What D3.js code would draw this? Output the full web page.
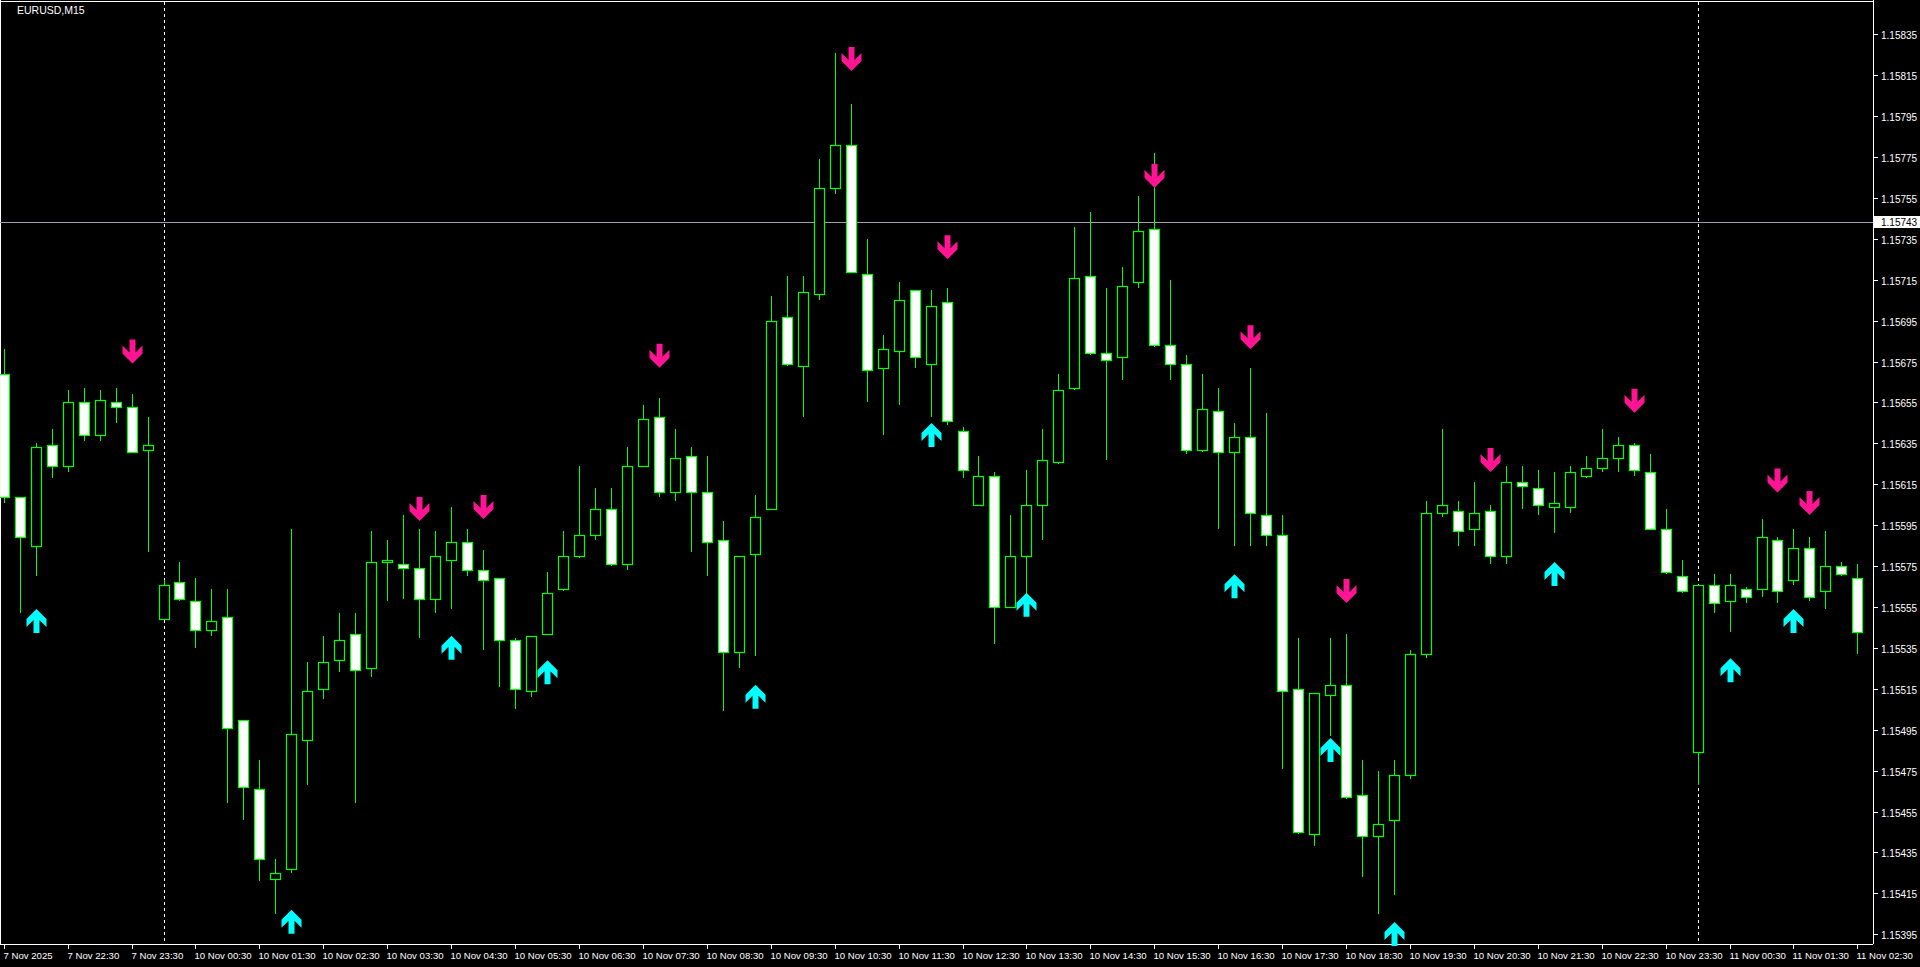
<!DOCTYPE html>
<html><head><meta charset="utf-8">
<script src="https://cdn.jsdelivr.net/npm/d3@7"></script>
<style>html,body{margin:0;padding:0;background:#000;overflow:hidden}</style>
</head><body><svg id="c" width="1920" height="967"></svg>
<script>
// OHLC as price; written as 1.15 + n/100000 where n listed (open, high, low, close)
const ohlcPoints = [
[669,681,606,609],[609,609,552,589],[585,635,570,633],[634,642,618,624],[624,661,621,655],
[655,662,636,639],[639,661,636,656],[655,662,645,653],[653,659,631,631],[632,648,582,634],
[549,568,549,566],[567,577,558,559],[558,569,535,544],[544,564,541,548],[550,564,459,496],
[500,500,451,467],[466,480,421,432],[422,432,405,425],[427,593,425,493],[490,528,468,514],
[515,541,510,528],[529,552,523,539],[542,552,459,524],[525,592,521,577],[577,588,558,578],
[576,600,559,574],[574,593,540,559],[559,592,552,580],[578,604,554,587],[587,593,570,573],
[573,583,534,568],[569,569,516,539],[539,540,505,515],[514,541,511,541],[542,572,542,562],
[564,592,563,580],[580,624,579,590],[590,613,588,603],[603,613,575,576],[576,633,573,624],
[624,654,624,647],[648,657,609,611],[611,642,607,628],[629,633,582,611],[611,629,570,587],
[588,597,504,533],[533,580,525,580],[581,610,531,599],[603,707,603,695],[697,717,673,674],
[673,717,648,709],[708,774,705,760],[760,826,757,781],[781,801,719,719],[718,735,655,671],
[672,688,639,681],[680,714,654,705],[710,710,672,677],[674,710,648,702],[704,711,644,646],
[641,643,618,622],[605,629,605,619],[619,621,537,555],[555,600,555,580],[580,622,552,605],
[605,642,588,627],[626,669,625,661],[662,741,661,716],[717,748,678,679],[679,711,627,676],
[677,721,666,712],[714,756,711,739],[740,777,682,683],[683,715,666,674],[674,678,630,632],
[632,669,631,652],[651,662,593,631],[631,645,585,638],[638,672,585,601],[600,650,585,590],
[590,600,476,514],[515,540,444,445],[444,513,438,513],[512,540,492,517],[517,542,461,462],
[463,480,423,443],[443,475,405,449],[451,480,414,473],[473,534,471,532],[532,607,530,601],
[601,642,599,605],[602,607,585,592],[593,616,585,601],[602,605,576,580],[580,624,576,616],
[616,624,603,614],[613,622,600,605],[604,621,591,606],[604,624,601,621],[619,629,618,623],
[623,642,621,628],[628,638,621,634],[634,635,619,622],[621,630,593,593],[593,603,571,572],
[570,578,562,563],[484,566,468,566],[566,571,552,557],[558,571,543,566],[564,565,557,560],
[564,598,560,589],[588,589,557,563],[568,593,566,584],[584,589,558,560],[563,592,554,575],
[575,577,570,571],[569,576,532,543]
];
const candles = ohlcPoints.map(a => a.map(n => +(1.15 + n / 100000).toFixed(5)));
const downArrowIdx = [8, 26, 30, 41, 53, 59, 72, 78, 84, 93, 102, 111, 113];
const downArrowPts = [674, 597, 598, 672, 817, 725, 760, 681, 557, 621, 650, 611, 600];
const upArrowIdx = [2, 18, 28, 34, 47, 58, 64, 77, 83, 87, 97, 108, 112];
const upArrowPts = [554, 407, 541, 529, 517, 645, 562, 571, 491, 401, 577, 530, 554];
const separatorIdx = [10, 106];
const priceTicks = [1.15395,1.15415,1.15435,1.15455,1.15475,1.15495,1.15515,1.15535,1.15555,1.15575,1.15595,1.15615,1.15635,1.15655,1.15675,1.15695,1.15715,1.15735,1.15755,1.15775,1.15795,1.15815,1.15835];
const timeLabels = ["7 Nov 2025","7 Nov 22:30","7 Nov 23:30","10 Nov 00:30","10 Nov 01:30","10 Nov 02:30","10 Nov 03:30","10 Nov 04:30","10 Nov 05:30","10 Nov 06:30","10 Nov 07:30","10 Nov 08:30","10 Nov 09:30","10 Nov 10:30","10 Nov 11:30","10 Nov 12:30","10 Nov 13:30","10 Nov 14:30","10 Nov 15:30","10 Nov 16:30","10 Nov 17:30","10 Nov 18:30","10 Nov 19:30","10 Nov 20:30","10 Nov 21:30","10 Nov 22:30","10 Nov 23:30","11 Nov 00:30","11 Nov 01:30","11 Nov 02:30"];
const currentPrice = 1.15743;
const symbol = "EURUSD,M15";

const svg = d3.select("#c");
const plotR = 1873, plotB = 944;
const y = d3.scaleLinear().domain([1.15395, 1.15835]).range([934.3, 34.3]);
const x = d3.scaleLinear().domain([0, 1]).range([3.7, 3.7 + 15.98]);
const font = "Liberation Sans, Arial, sans-serif";
const green = "#00ff00";
const pt = n => 1.15 + n / 100000;

svg.append("line").attr("x1",plotR+0.5).attr("x2",plotR+0.5).attr("y1",0).attr("y2",plotB).attr("stroke","#fff");
svg.append("line").attr("x1",0).attr("x2",plotR).attr("y1",plotB+0.5).attr("y2",plotB+0.5).attr("stroke","#fff");
svg.append("line").attr("x1",0.5).attr("x2",0.5).attr("y1",0).attr("y2",plotB).attr("stroke","#fff");
svg.append("line").attr("x1",0).attr("x2",plotR).attr("y1",1.5).attr("y2",1.5).attr("stroke","#fff");

svg.selectAll(".sep").data(separatorIdx).join("line")
  .attr("x1", d => Math.round(x(d))+0.5).attr("x2", d => Math.round(x(d))+0.5)
  .attr("y1", 2).attr("y2", plotB).attr("stroke", "#fff").attr("stroke-dasharray","3,3");

svg.append("line").attr("x1",0).attr("x2",plotR).attr("y1",Math.round(y(currentPrice))+0.5).attr("y2",Math.round(y(currentPrice))+0.5).attr("stroke","#a0a0a8");

const g = svg.append("g");
candles.forEach((c, i) => {
  const [o,h,l,cl] = c;
  const cx = Math.round(x(i)) + 0.5;
  g.append("line").attr("x1",cx).attr("x2",cx).attr("y1",Math.round(y(h))).attr("y2",Math.round(y(l))).attr("stroke",green);
  const top = Math.round(y(Math.max(o,cl))), bot = Math.round(y(Math.min(o,cl)));
  g.append("rect").attr("x",cx-5).attr("y",top+0.5).attr("width",10).attr("height",Math.max(1,bot-top))
    .attr("fill", cl < o ? "#fff" : "#000").attr("stroke",green).attr("stroke-width",1.2);
});

const downShape = "M-3,-24 L3,-24 L3,-11 L10,-18 L10,-10 L0,0 L-10,-10 L-10,-18 L-3,-11 Z";
svg.selectAll(".dn").data(downArrowIdx).join("path")
  .attr("d", downShape).attr("fill", "#ff1493")
  .attr("transform", (d, k) => `translate(${Math.round(x(d))+0.5},${y(pt(downArrowPts[k]))})`);
svg.selectAll(".up").data(upArrowIdx).join("path")
  .attr("d", downShape).attr("fill", "#00ffff")
  .attr("transform", (d, k) => `translate(${Math.round(x(d))+0.5},${y(pt(upArrowPts[k]))}) scale(1,-1)`);

priceTicks.forEach(p => {
  const yy = Math.round(y(p)) + 0.5;
  svg.append("line").attr("x1",plotR).attr("x2",plotR+5).attr("y1",yy).attr("y2",yy).attr("stroke","#fff");
  svg.append("text").attr("x",plotR+8).attr("y",yy+4).attr("fill","#fff").attr("font-family",font).attr("font-size",10).text(p.toFixed(5));
});
const cy = Math.round(y(currentPrice));
svg.append("rect").attr("x",plotR+1).attr("y",cy-6).attr("width",46).attr("height",12).attr("fill","#fff");
svg.append("text").attr("x",plotR+8).attr("y",cy+4).attr("fill","#000").attr("font-family",font).attr("font-size",10).text(currentPrice.toFixed(5));

timeLabels.forEach((t, k) => {
  const xx = Math.round(x(k*4)) + 0.5;
  svg.append("line").attr("x1",xx).attr("x2",xx).attr("y1",plotB).attr("y2",plotB+5).attr("stroke","#fff");
  svg.append("text").attr("x",xx-1).attr("y",plotB+15).attr("fill","#fff").attr("font-family",font).attr("font-size",9.6).text(t);
});

svg.append("text").attr("x",17).attr("y",14).attr("fill","#fff").attr("font-family",font).attr("font-size",10.5).text(symbol);
</script></body></html>
